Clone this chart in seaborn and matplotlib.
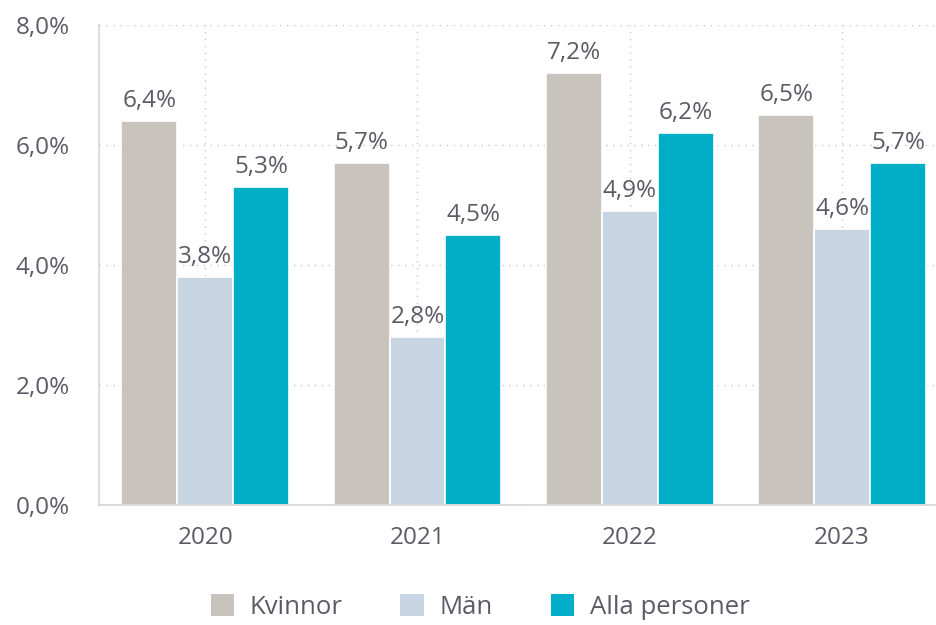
import matplotlib
matplotlib.use("Agg")
import matplotlib.pyplot as plt
from matplotlib.patches import Patch
import seaborn as sns
import pandas as pd

years = ["2020", "2021", "2022", "2023"]
groups = ["Kvinnor", "Män", "Alla personer"]
kvinnor = [6.4, 5.7, 7.2, 6.5]
man = [3.8, 2.8, 4.9, 4.6]
alla = [5.3, 4.5, 6.2, 5.7]
yticks = [0, 2, 4, 6, 8]
colors = ["#C9C3BD", "#C7D6E2", "#00AEC7"]

rows = []
for g, vals in zip(groups, [kvinnor, man, alla]):
    for y, v in zip(years, vals):
        rows.append({"År": y, "Andel": v, "Grupp": g})
df = pd.DataFrame(rows)

sns.set_theme(style="white")
plt.rcParams["font.family"] = ["Open Sans", "DejaVu Sans"]
text_color = "#5B5B66"
fs = 17.5

fig = plt.figure(figsize=(9.37, 6.25), dpi=100)
ax = fig.add_axes([99 / 937, 120 / 625, (937 - 99) / 937, 480 / 625])

sns.barplot(data=df, x="År", y="Andel", hue="Grupp", hue_order=groups,
            palette=colors, width=0.79, edgecolor="white", linewidth=1.2,
            saturation=1, ax=ax, legend=False)

ax.set_ylim(0, 8)
ax.set_xlim(-0.5, 3.447)
ax.set_yticks(yticks)
ax.set_yticklabels([f"{t:.1f}".replace(".", ",") + "%" for t in yticks])
ax.set_xlabel("")
ax.set_ylabel("")

ax.tick_params(axis="y", length=0, pad=21, labelsize=fs, labelcolor=text_color)
ax.tick_params(axis="x", length=0, pad=15, labelsize=fs, labelcolor=text_color)

ax.grid(True, axis="both", linestyle=(0, (1, 4)), color="#C8C8C8", linewidth=1)
ax.set_axisbelow(True)

for side in ["top", "right"]:
    ax.spines[side].set_visible(False)
for side in ["left", "bottom"]:
    ax.spines[side].set_color("#D6D6DA")
    ax.spines[side].set_linewidth(1.2)

for cont, vals in zip(ax.containers, [kvinnor, man, alla]):
    ax.bar_label(cont, labels=[f"{v:.1f}".replace(".", ",") + "%" for v in vals],
                 padding=6, fontsize=fs, color=text_color)

handles = [Patch(facecolor=c, edgecolor="none") for c in colors]
fig.legend(handles, groups, loc="center", bbox_to_anchor=(480 / 937, 1 - 607 / 625),
           ncol=3, frameon=False, fontsize=18.5, labelcolor=text_color,
           handlelength=0.9, handleheight=0.9, handletextpad=0.62, columnspacing=2.25)

fig.savefig("out.png", dpi=100)
